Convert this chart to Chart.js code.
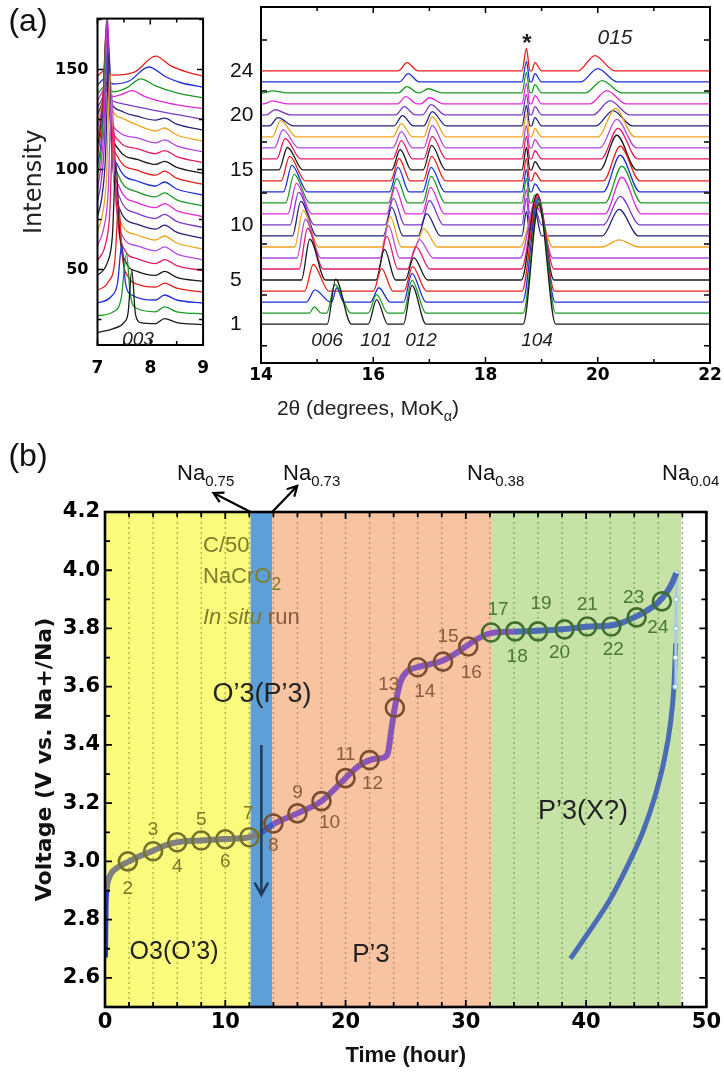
<!DOCTYPE html>
<html>
<head>
<meta charset="utf-8">
<script src="https://cdn.jsdelivr.net/npm/chart.js@4.4.1/dist/chart.umd.min.js"></script>
<style>
  body { margin: 0; background: #fff; }
  #page { position: relative; width: 724px; height: 1076px; overflow: hidden; font-family: Arial, "Liberation Sans", sans-serif; }
  .box { position: absolute; }
  .t { position: absolute; transform: translate(-50%, -50%); white-space: nowrap; color: #222; z-index: 3; }
  .tl { position: absolute; white-space: nowrap; color: #111; z-index: 3; }
  .sub { font-size: 68%; position: relative; top: 0.4em; }
</style>
</head>
<body>
<div id="page">
  <div class="box" style="left:0;top:0;width:222px;height:400px"><canvas id="xrdLow"></canvas></div>
  <div class="box" style="left:222px;top:0;width:502px;height:400px"><canvas id="xrdHigh"></canvas></div>
  <div class="box" style="left:0;top:440px;width:724px;height:636px"><canvas id="volt"></canvas></div>

  <div class="t" style="left:28px;top:20px;font-size:32px;color:#111">(a)</div>
  <div class="t" style="left:28px;top:455px;font-size:32px;color:#111">(b)</div>

  <div class="t" style="left:138px;top:339px;font-size:19px;font-style:italic">003</div>
  <div class="t" style="left:327px;top:340px;font-size:19px;font-style:italic">006</div>
  <div class="t" style="left:376px;top:340px;font-size:19px;font-style:italic">101</div>
  <div class="t" style="left:421px;top:340px;font-size:19px;font-style:italic">012</div>
  <div class="t" style="left:537px;top:340px;font-size:19px;font-style:italic">104</div>
  <div class="t" style="left:615px;top:37px;font-size:21px;font-style:italic">015</div>
  <div class="t" style="left:527px;top:43px;font-size:24px;font-weight:bold">*</div>
  <div class="t" style="left:368px;top:408px;font-size:21px">2θ (degrees, MoK<span class="sub">α</span>)</div>

  <div class="tl" style="left:177px;top:460px;font-size:22px">Na<span class="sub">0.75</span></div>
  <div class="tl" style="left:283px;top:460px;font-size:22px">Na<span class="sub">0.73</span></div>
  <div class="tl" style="left:467px;top:460px;font-size:22px">Na<span class="sub">0.38</span></div>
  <div class="tl" style="left:662px;top:460px;font-size:22px">Na<span class="sub">0.04</span></div>

  <div class="tl" style="left:203px;top:532px;font-size:22px;color:#7d7d2c">C/50</div>
  <div class="tl" style="left:203px;top:563px;font-size:22px;color:#7d7d2c">NaCrO<span class="sub" style="font-size:80%">2</span></div>
  <div class="tl" style="left:203px;top:604px;font-size:22px;color:#7d7d2c"><i>In situ</i> <span style="color:#8a5b3c">run</span></div>

  <div class="t" style="left:262px;top:693px;font-size:27px">O’3(P’3)</div>
  <div class="t" style="left:174px;top:950px;font-size:25px">O3(O’3)</div>
  <div class="t" style="left:371px;top:953px;font-size:26px">P’3</div>
  <div class="t" style="left:583px;top:810px;font-size:27px">P’3(X?)</div>
</div>

<script>
'use strict'
// ---------- panel (a) data ----------
// one trace per scan, 1 = bottom
let traceOffsets = [22.5, 27.9, 33.3, 38.7, 44.1, 49.5, 54.9, 60.3, 65.7, 71.1, 76.5, 81.9,
  87.3, 92.7, 98.1, 103.5, 108.9, 114.3, 119.7, 125.1, 130.5, 135.9, 141.3, 146.7];
let traceColors = ['#1a1a1a', '#1c9a24', '#1f30d8', '#e5201c', '#1a1a1a', '#e41c64', '#b448e0', '#f0a21c',
  '#23237e', '#7c3cc6', '#e02ad6', '#1c9a24', '#1f30d8', '#e5201c', '#1a1a1a', '#e41c64',
  '#b448e0', '#f0a21c', '#23237e', '#7c3cc6', '#e02ad6', '#1c9a24', '#1f30d8', '#e5201c'];
let traceNumbersShown = [1, 5, 10, 15, 20, 24];

// 7-9 deg window, intensity above each trace's offset
let lowAngleTraces = [
  [[7,-4],[7.3,-2],[7.5,1],[7.58,6],[7.65,27],[7.72,5],[7.82,1],[8.1,0.5],[8.27,3],[8.5,1],[9,0]],
  [[7,-1],[7.3,1],[7.45,8],[7.55,30],[7.62,10],[7.72,3],[8.1,1],[8.27,3.5],[8.5,1],[9,0]],
  [[7,0],[7.25,3],[7.38,10],[7.46,29],[7.53,10],[7.65,4],[8.1,1.5],[8.27,4],[8.5,1.5],[9,0]],
  [[7,1],[7.2,5],[7.33,16],[7.4,44],[7.47,18],[7.6,7],[7.75,4],[8.1,2.5],[8.27,4.5],[8.5,2],[9,0]],
  [[7,3],[7.18,9],[7.28,22],[7.35,59],[7.42,24],[7.55,9],[7.75,5],[8.1,3],[8.27,5],[8.5,2],[9,0]],
  [[7,5],[7.15,13],[7.23,28],[7.3,73],[7.37,30],[7.5,11],[7.75,6],[8.1,3.5],[8.27,5.5],[8.5,2.5],[9,0]],
  [[7,7],[7.12,16],[7.2,33],[7.27,83],[7.34,34],[7.47,12],[7.75,7],[8.1,4.5],[8.27,6.5],[8.5,3],[9,0]],
  [[7,9],[7.1,18],[7.17,36],[7.24,88],[7.31,36],[7.45,13],[7.75,7],[8.1,4.5],[8.27,6.5],[8.5,3],[9,0]],
  [[7,11],[7.08,20],[7.15,40],[7.22,93],[7.29,38],[7.43,14],[7.75,7],[8.1,4.5],[8.27,6.5],[8.5,3],[9,0]],
  [[7,13],[7.07,23],[7.13,42],[7.2,98],[7.27,40],[7.42,15],[7.75,7],[8.1,4.5],[8.27,6.5],[8.5,3],[9,0]],
  [[7,14],[7.06,24],[7.12,44],[7.19,100],[7.26,40],[7.41,15],[7.75,7],[8.1,4.5],[8.27,6.5],[8.5,3],[9,0]],
  [[7,15],[7.06,25],[7.11,44],[7.18,96],[7.25,39],[7.4,15],[7.75,7],[8.1,4.5],[8.27,6.5],[8.5,3],[9,0]],
  [[7,15],[7.06,24],[7.11,41],[7.18,88],[7.25,36],[7.4,14],[7.75,7],[8.1,4.5],[8.27,6.5],[8.5,3],[9,0]],
  [[7,15],[7.05,23],[7.1,38],[7.17,81],[7.24,33],[7.4,13],[7.75,7],[8.1,4.5],[8.27,6.5],[8.5,3],[9,0]],
  [[7,14],[7.05,21],[7.1,34],[7.17,73],[7.24,30],[7.4,12],[7.75,7],[8.1,4.5],[8.27,6],[8.5,3],[9,0]],
  [[7,13],[7.05,19],[7.1,29],[7.17,61],[7.24,26],[7.4,11],[7.75,7],[8.1,4.5],[8.27,6],[8.5,3],[9,0]],
  [[7,12],[7.05,17],[7.1,25],[7.16,49],[7.23,22],[7.4,10],[7.75,7],[8.1,4.5],[8.27,6],[8.5,3],[9,0]],
  [[7,10],[7.05,14],[7.1,20],[7.16,37],[7.23,19],[7.5,11],[7.75,8],[8.1,5],[8.27,6.5],[8.5,3],[9,0]],
  [[7,8],[7.05,11],[7.1,15],[7.15,25],[7.22,16],[7.5,9],[7.75,7],[8.1,5],[8.27,6],[8.5,3],[9,0]],
  [[7,6],[7.08,10],[7.15,15],[7.25,10],[7.45,8],[7.8,6],[8.27,3.5],[8.6,2],[9,0]],
  [[7,4],[7.15,10],[7.3,6],[7.45,7],[7.65,9],[7.9,6],[8.3,3],[8.6,1.5],[9,0]],
  [[7,2],[7.15,6],[7.3,3],[7.55,5],[7.82,9.5],[8.1,6],[8.5,2.5],[9,0]],
  [[7,1],[7.13,4],[7.3,1.5],[7.6,3],[7.97,10],[8.3,5],[8.6,2],[9,0]],
  [[7,0],[7.12,2.5],[7.3,0.5],[7.7,2],[8.1,10],[8.4,5],[8.7,2],[9,0]]
];

// 14-22 deg window: peak position / height for each trace (0 = absent)
let pos006 = [15.33, 15.32, 14.96, 14.93, 14.87, 14.83, 14.79, 14.75, 14.71, 14.67, 14.63, 14.59,
  14.55, 14.51, 14.47, 14.43, 14.39, 14.35, 14.3, 14.25, 14.2, 14.2, 14.2, 14.2];
let h006 = [22, 14, 6, 13, 20, 20, 19, 18, 17, 16, 15, 14, 13, 12, 11, 10, 9, 8, 4, 2.5, 1.5, 1, 0, 0];
let pos006b = [15.3, 14.95, 15.35, 15.3, 15.3, 15.3, 15.3, 15.3, 15.3, 15.3, 15.3, 15.3,
  15.3, 15.3, 15.3, 15.3, 15.3, 15.3, 15.3, 15.3, 15.3, 15.3, 15.3, 15.3];
let h006b = [0, 3, 7, 0, 0, 0, 0, 0, 0, 0, 0, 0, 0, 0, 0, 0, 0, 0, 0, 0, 0, 0, 0, 0];
let pos101 = [16.06, 16.06, 16.1, 16.15, 16.2, 16.24, 16.27, 16.3, 16.33, 16.36, 16.39, 16.42,
  16.44, 16.46, 16.48, 16.5, 16.5, 16.5, 16.52, 16.55, 16.58, 16.6, 16.62, 16.6];
let h101 = [12, 9, 7, 11, 15, 16, 16, 15, 14, 13, 13, 12, 12, 11, 10, 9, 8, 6.5, 5, 4, 3.5, 3, 4, 4];
let pos012 = [16.69, 16.69, 16.69, 16.7, 16.72, 16.76, 16.82, 16.9, 16.95, 17.0, 17.02, 17.03,
  17.03, 17.04, 17.04, 17.05, 17.05, 17.05, 17.05, 17.03, 17.0, 16.98, 16.98, 16.98];
let h012 = [19, 16, 14, 12, 11, 11, 9, 9, 11, 12, 13, 13, 12, 12, 12, 11, 11, 10, 7, 5, 3, 2, 0, 0];
let pos104 = [18.95, 18.95, 18.94, 18.93, 18.92, 18.92, 18.9, 18.9, 18.9, 18.9, 18.9, 18.9,
  18.9, 18.9, 18.9, 18.9, 18.9, 18.9, 18.9, 18.9, 18.9, 18.9, 18.9, 18.9];
let h104 = [59, 55, 51, 47, 42, 37, 29, 22, 0, 0, 0, 0, 0, 0, 0, 0, 0, 0, 0, 0, 0, 0, 0, 0];
let posStar = 18.73;
let hStar = [0, 0, 0, 0, 0, 0, 0, 0, 12, 13, 12, 12, 11, 11, 11, 11, 11, 11, 10, 10, 10, 10, 10, 11];
let posShoulder = 18.88;
let hShoulder = [0, 0, 0, 0, 0, 0, 0, 0, 12, 8, 5, 4, 4, 4, 4, 4, 4, 4, 4, 4, 4, 4, 4, 4];
let pos015 = [20.38, 20.38, 20.38, 20.38, 20.38, 20.38, 20.38, 20.38, 20.38, 20.4, 20.43, 20.43,
  20.4, 20.4, 20.34, 20.36, 20.34, 20.31, 20.27, 20.22, 20.16, 20.08, 20.0, 19.95];
let h015 = [0, 0, 0, 0, 0, 0, 0, 3.5, 13, 14, 18, 18, 18, 17, 17, 15, 14, 14, 7.5, 7, 6.5, 6, 6.5, 7.5];

// axis ticks, panel (a)
let xTicksLow = [7, 7.5, 8, 8.5, 9];
let xLabelsLow = [7, 8, 9];
let yTicksLow = [25, 50, 75, 100, 125, 150, 175];
let yLabelsLow = [50, 100, 150];
let xTicksHigh = [14, 15, 16, 17, 18, 19, 20, 21, 22];
let xLabelsHigh = [14, 16, 18, 20, 22];
let yTicksHigh = [11.8, 36.8, 61.8, 86.8, 111.8, 136.8, 161.8];

// ---------- panel (b) data ----------
let chargeTime = [0, 0.05, 0.12, 0.4, 0.9, 2, 3, 4, 5, 6, 8, 10, 12, 13, 14, 16, 18, 19, 20, 21, 22,
  23, 23.5, 23.8, 24.1, 24.6, 25.2, 26, 28, 29, 30, 31, 32, 34, 36, 38, 40, 42, 43, 44, 45, 46, 46.8, 47.2, 47.5];
let chargeVolt = [2.67, 2.85, 2.9, 2.95, 2.975, 3.0, 3.02, 3.037, 3.055, 3.066, 3.072, 3.077, 3.083, 3.1, 3.128,
  3.165, 3.207, 3.245, 3.286, 3.325, 3.348, 3.355, 3.37, 3.45, 3.53, 3.62, 3.655, 3.667, 3.688, 3.71, 3.738,
  3.765, 3.783, 3.789, 3.792, 3.797, 3.806, 3.81, 3.82, 3.838, 3.86, 3.89, 3.93, 3.96, 3.99];
let dropTime = [38.7, 40.3, 42.0, 43.5, 44.7, 45.7, 46.5, 47.0, 47.3, 47.45];
let dropVolt = [2.666, 2.762, 2.87, 2.99, 3.1, 3.22, 3.35, 3.47, 3.6, 3.75];
let endTime = [47.42, 47.45, 47.47, 47.49, 47.5];
let endVolt = [3.6, 3.7, 3.8, 3.9, 3.99];

let scanIds = [2, 3, 4, 5, 6, 7, 8, 9, 10, 11, 12, 13, 14, 15, 16, 17, 18, 19, 20, 21, 22, 23, 24];
let scanTime = [1.9, 4, 6, 8, 10, 12, 14, 16, 18, 20, 22, 24.1, 26, 28.1, 30.2, 32.1, 34.1, 36, 38.2, 40.1, 42.1, 44.2, 46.3];
let scanVolt = [3.0, 3.035, 3.066, 3.072, 3.076, 3.083, 3.13, 3.165, 3.207, 3.286, 3.348, 3.528, 3.667,
  3.686, 3.738, 3.786, 3.79, 3.79, 3.797, 3.807, 3.807, 3.838, 3.893];

let phaseBounds = [0, 12.1, 13.9, 32.1, 47.9];
let gridHours = [2, 4, 6, 8, 10, 12, 14, 16, 18, 20, 22, 24, 26, 28, 30, 32, 34, 36, 38, 40, 42, 44, 46, 48];
let xTicksVolt = [0, 2, 4, 6, 8, 10, 12, 14, 16, 18, 20, 22, 24, 26, 28, 30, 32, 34, 36, 38, 40, 42, 44, 46, 48, 50];
let xLabelsVolt = [0, 10, 20, 30, 40, 50];
let yTicksVolt = [2.5, 2.6, 2.7, 2.8, 2.9, 3.0, 3.1, 3.2, 3.3, 3.4, 3.5, 3.6, 3.7, 3.8, 3.9, 4.0, 4.1, 4.2];
let yLabelsVolt = [2.6, 2.8, 3.0, 3.2, 3.4, 3.6, 3.8, 4.0, 4.2];

// ---------- styles ----------
let phaseFill = ['#fafa7c', '#5d9fd6', '#f7c3a0', '#c6e2a6'];
let phaseDots = ['#b3ac3c', '#3f7fb8', '#c48a66', '#7dad60'];
let phaseText = ['#7b7b2a', '#7b7b2a', '#8a5b3c', '#4a7832'];
let phaseRing = ['#72722a', '#72722a', '#7a4e2e', '#416e2c'];
let curveColors = ['#808080', '#3a5cc4', '#8a55b8', '#4b6cb4'];
// label nudges (px) for scan numbers 2..24
let labelNudge = [[0,27],[0,-21],[0,25],[0,-21],[0,22],[-1,-23],[0,22],[0,-21],[8,22],[0,-23],[3,24],
  [-6,-23],[7,25],[5,-25],[3,26],[7,-23],[2,25],[3,-28],[-5,23],[0,-22],[2,23],[-3,-20],[-4,26]];

let tickFont = { family: '"DejaVu Sans", Verdana, sans-serif', weight: 'bold' };

function phaseOf(t) {
  let idx = -1;
  for (let i = 0; i < phaseBounds.length; i++) {
    if (t >= phaseBounds[i]) idx = i;
  }
  return idx; // 4 = white strip past the last region
}

// ---------- plugins ----------
let framePlugin = {
  id: 'frame',
  afterDraw(chart, args, opts) {
    let { ctx, chartArea: a, scales } = chart;
    ctx.save();
    ctx.strokeStyle = '#000';
    ctx.lineWidth = opts.tickWidth;
    ctx.beginPath();
    scales.x.ticks.forEach(t => {
      let px = scales.x.getPixelForValue(t.value);
      let len = t.label ? opts.major : opts.minor;
      ctx.moveTo(px, a.bottom); ctx.lineTo(px, a.bottom - len);
      ctx.moveTo(px, a.top); ctx.lineTo(px, a.top + len);
    });
    scales.y.ticks.forEach(t => {
      let py = scales.y.getPixelForValue(t.value);
      let len = (t.label || opts.allMajor) ? opts.major : opts.minor;
      ctx.moveTo(a.left, py); ctx.lineTo(a.left + len, py);
      ctx.moveTo(a.right, py); ctx.lineTo(a.right - len, py);
    });
    ctx.stroke();
    ctx.lineWidth = opts.width;
    ctx.strokeRect(a.left, a.top, a.right - a.left, a.bottom - a.top);
    ctx.restore();
  }
};

let traceNumberPlugin = {
  id: 'traceNumbers',
  afterDraw(chart) {
    let { ctx, chartArea: a, scales } = chart;
    ctx.save();
    ctx.font = '21px Arial, "Liberation Sans", sans-serif';
    ctx.fillStyle = '#111';
    ctx.textAlign = 'left';
    ctx.textBaseline = 'middle';
    traceNumbersShown.forEach(n => {
      ctx.fillText(String(n), a.left - 31, scales.y.getPixelForValue(traceOffsets[n - 1]));
    });
    ctx.restore();
  }
};

function drawArrow(ctx, x0, y0, x1, y1, head) {
  let ang = Math.atan2(y1 - y0, x1 - x0);
  ctx.beginPath();
  ctx.moveTo(x0, y0);
  ctx.lineTo(x1, y1);
  ctx.moveTo(x1 - head * Math.cos(ang - 0.5), y1 - head * Math.sin(ang - 0.5));
  ctx.lineTo(x1, y1);
  ctx.lineTo(x1 - head * Math.cos(ang + 0.5), y1 - head * Math.sin(ang + 0.5));
  ctx.stroke();
}

let phasePlugin = {
  id: 'phases',
  beforeDraw(chart) {
    let { ctx, chartArea: a, scales: { x } } = chart;
    ctx.save();
    for (let i = 0; i < phaseBounds.length - 1; i++) {
      let x0 = x.getPixelForValue(phaseBounds[i]);
      let x1 = x.getPixelForValue(phaseBounds[i + 1]);
      ctx.fillStyle = phaseFill[i];
      ctx.fillRect(x0, a.top, x1 - x0, a.bottom - a.top);
    }
    ctx.restore();
  },
  beforeDatasetsDraw(chart) {
    let { ctx, chartArea: a, scales: { x } } = chart;
    ctx.save();
    ctx.lineWidth = 1.3;
    ctx.setLineDash([2, 3]);
    gridHours.forEach(h => {
      let p = phaseOf(h);
      ctx.strokeStyle = p < 4 ? phaseDots[p] : '#8e9aa6';
      let px = x.getPixelForValue(h);
      ctx.beginPath();
      ctx.moveTo(px, a.top);
      ctx.lineTo(px, a.bottom);
      ctx.stroke();
    });
    ctx.restore();
  },
  afterDatasetsDraw(chart) {
    let { ctx, chartArea: a, scales: { x, y } } = chart;
    ctx.save();
    // scan numbers next to the circles
    ctx.font = '19px Arial, "Liberation Sans", sans-serif';
    ctx.textAlign = 'center';
    ctx.textBaseline = 'middle';
    scanIds.forEach((id, i) => {
      ctx.fillStyle = phaseText[phaseOf(scanTime[i])];
      ctx.fillText(String(id), x.getPixelForValue(scanTime[i]) + labelNudge[i][0],
        y.getPixelForValue(scanVolt[i]) + labelNudge[i][1]);
    });
    // arrow inside the O'3 strip
    ctx.strokeStyle = '#1f3b5c';
    ctx.lineWidth = 2.5;
    drawArrow(ctx, x.getPixelForValue(13), y.getPixelForValue(3.40),
      x.getPixelForValue(13), y.getPixelForValue(2.885), 14);
    // arrows from the strip edges up to the Na labels
    ctx.strokeStyle = '#000';
    ctx.lineWidth = 2.2;
    let xa = x.getPixelForValue(phaseBounds[1]);
    let xb = x.getPixelForValue(phaseBounds[2]);
    drawArrow(ctx, xa, a.top, xa - 37, a.top - 19, 11);
    drawArrow(ctx, xb, a.top, xb + 25, a.top - 26, 11);
    ctx.restore();
  }
};

// ---------- builders ----------
let highFamilies = [
  { pos: pos006, h: h006, wl: 0.15, wr: 0.28 },
  { pos: pos006b, h: h006b, wl: 0.09, wr: 0.12 },
  { pos: pos101, h: h101, wl: 0.15, wr: 0.2 },
  { pos: pos012, h: h012, wl: 0.15, wr: 0.25 },
  { pos: pos104, h: h104, wl: 0.28, wr: 0.3 },
  { pos: posStar, h: hStar, wl: 0.08, wr: 0.06 },
  { pos: posShoulder, h: hShoulder, wl: 0.06, wr: 0.12 },
  { pos: pos015, h: h015, wl: 0.3, wr: 0.35 }
];

function highAngleTrace(k) {
  let pts = [];
  highFamilies.forEach(f => {
    let h = f.h[k];
    if (h > 0) {
      let p = Array.isArray(f.pos) ? f.pos[k] : f.pos;
      pts.push([p - f.wl, 0], [p, h], [p + f.wr, 0]);
    }
  });
  pts.sort((a, b) => a[0] - b[0]);
  return [[14, 0], ...pts, [22, 0]].map(p => ({ x: p[0], y: p[1] + traceOffsets[k] }));
}

function lineSet(data, color) {
  return {
    data: data, showLine: true, borderColor: color, borderWidth: 1.3,
    pointRadius: 0, cubicInterpolationMode: 'monotone'
  };
}

function baseOptions(pad) {
  return {
    responsive: true, maintainAspectRatio: false, animation: false, events: [],
    layout: { padding: pad },
    plugins: { legend: { display: false }, tooltip: { enabled: false } }
  };
}

Chart.defaults.font.family = 'Arial, "Liberation Sans", sans-serif';
Chart.defaults.color = '#000';

// ---------- panel (a), 7-9 deg ----------
let optsLow = baseOptions({ top: 12, right: 11.5, left: 0, bottom: 0 });
optsLow.plugins.frame = { width: 2, tickWidth: 1.5, major: 6, minor: 4 };
optsLow.scales = {
  x: {
    type: 'linear', min: 7, max: 9,
    afterBuildTicks: s => { s.ticks = xTicksLow.map(v => ({ value: v })); },
    afterFit: s => { s.height = 55; },
    grid: { display: false, drawTicks: false }, border: { display: false },
    ticks: { autoSkip: false, maxRotation: 0, padding: 13, font: { ...tickFont, size: 17 },
      callback: v => xLabelsLow.includes(v) ? String(v) : '' }
  },
  y: {
    min: 12.3, max: 175.5,
    afterBuildTicks: s => { s.ticks = yTicksLow.map(v => ({ value: v })); },
    afterFit: s => { s.width = 97.5; },
    grid: { display: false, drawTicks: false }, border: { display: false },
    ticks: { autoSkip: false, padding: 9, font: { ...tickFont, size: 16 },
      callback: v => yLabelsLow.includes(v) ? String(v) : '' },
    title: { display: true, text: 'Intensity', color: '#222',
      font: { family: '"DejaVu Sans", sans-serif', size: 24 }, padding: { top: 20, bottom: 0 } }
  }
};
new Chart(document.getElementById('xrdLow'), {
  type: 'scatter',
  data: { datasets: lowAngleTraces.map((pts, k) =>
    lineSet(pts.map(p => ({ x: p[0], y: p[1] + traceOffsets[k] })), traceColors[k])) },
  options: optsLow,
  plugins: [framePlugin]
});

// ---------- panel (a), 14-22 deg ----------
let optsHigh = baseOptions({ top: 7, right: 14, left: 0, bottom: 0 });
optsHigh.plugins.frame = { width: 2, tickWidth: 1.5, major: 6, minor: 4, allMajor: true };
optsHigh.scales = {
  x: {
    type: 'linear', min: 14, max: 22,
    afterBuildTicks: s => { s.ticks = xTicksHigh.map(v => ({ value: v })); },
    afterFit: s => { s.height = 37; },
    grid: { display: false, drawTicks: false }, border: { display: false },
    ticks: { autoSkip: false, maxRotation: 0, padding: 2, font: { ...tickFont, size: 17 },
      callback: v => xLabelsHigh.includes(v) ? String(v) : '' }
  },
  y: {
    min: 3.4, max: 178,
    afterBuildTicks: s => { s.ticks = yTicksHigh.map(v => ({ value: v })); },
    afterFit: s => { s.width = 39; },
    grid: { display: false, drawTicks: false }, border: { display: false },
    ticks: { display: false }
  }
};
new Chart(document.getElementById('xrdHigh'), {
  type: 'scatter',
  data: { datasets: traceOffsets.map((o, k) => lineSet(highAngleTrace(k), traceColors[k])) },
  options: optsHigh,
  plugins: [framePlugin, traceNumberPlugin]
});

// ---------- panel (b), voltage ----------
let optsVolt = baseOptions({ top: 72, right: 14, left: 0, bottom: 0 });
optsVolt.plugins.frame = { width: 2.6, tickWidth: 1.8, major: 7, minor: 5 };
optsVolt.scales = {
  x: {
    type: 'linear', min: 0, max: 50,
    afterBuildTicks: s => { s.ticks = xTicksVolt.map(v => ({ value: v })); },
    afterFit: s => { s.height = 69; },
    grid: { display: false, drawTicks: false }, border: { display: false },
    ticks: { autoSkip: false, maxRotation: 0, padding: 3, font: { ...tickFont, size: 21 },
      callback: v => xLabelsVolt.includes(v) ? String(v) : '' },
    title: { display: true, text: 'Time (hour)', color: '#111',
      font: { size: 22, weight: 'bold' }, padding: { top: 0, bottom: 7 } }
  },
  y: {
    min: 2.5, max: 4.2,
    afterBuildTicks: s => { s.ticks = yTicksVolt.map(v => ({ value: v })); },
    afterFit: s => { s.width = 105; },
    grid: { display: false, drawTicks: false }, border: { display: false },
    ticks: { autoSkip: false, padding: 5, font: { ...tickFont, size: 21 },
      callback: v => yLabelsVolt.includes(v) ? v.toFixed(1) : '' },
    title: { display: true, text: 'Voltage (V vs. Na+/Na)', color: '#111',
      font: { family: '"DejaVu Sans", sans-serif', size: 22, weight: 'bold' }, padding: { top: 32, bottom: 0 } }
  }
};
new Chart(document.getElementById('volt'), {
  type: 'scatter',
  data: {
    datasets: [
      {
        label: 'scans',
        data: scanTime.map((t, i) => ({ x: t, y: scanVolt[i] })),
        pointRadius: 9, pointBorderWidth: 2.6, pointBackgroundColor: 'rgba(0,0,0,0)',
        pointBorderColor: scanTime.map(t => phaseRing[phaseOf(t)])
      },
      {
        label: 'charge',
        data: chargeTime.map((t, i) => ({ x: t, y: chargeVolt[i] })),
        showLine: true, pointRadius: 0, borderWidth: 6, cubicInterpolationMode: 'monotone',
        borderColor: curveColors[0],
        segment: {
          borderColor: c => c.p0.parsed.x < 0.1 ? '#2a3fd0' : curveColors[Math.min(phaseOf(c.p0.parsed.x), 3)]
        }
      },
      {
        label: 'end',
        data: endTime.map((t, i) => ({ x: t, y: endVolt[i] })),
        showLine: true, borderColor: '#a9cbe9', borderWidth: 3,
        pointRadius: 2.5, pointBorderWidth: 1, pointBorderColor: '#8ab6de', pointBackgroundColor: '#eef5fb'
      },
      {
        label: 'drop',
        data: dropTime.map((t, i) => ({ x: t, y: dropVolt[i] })),
        showLine: true, pointRadius: 0, borderWidth: 5, borderColor: curveColors[3],
        cubicInterpolationMode: 'monotone'
      }
    ]
  },
  options: optsVolt,
  plugins: [phasePlugin, framePlugin]
});
</script>
</body>
</html>
